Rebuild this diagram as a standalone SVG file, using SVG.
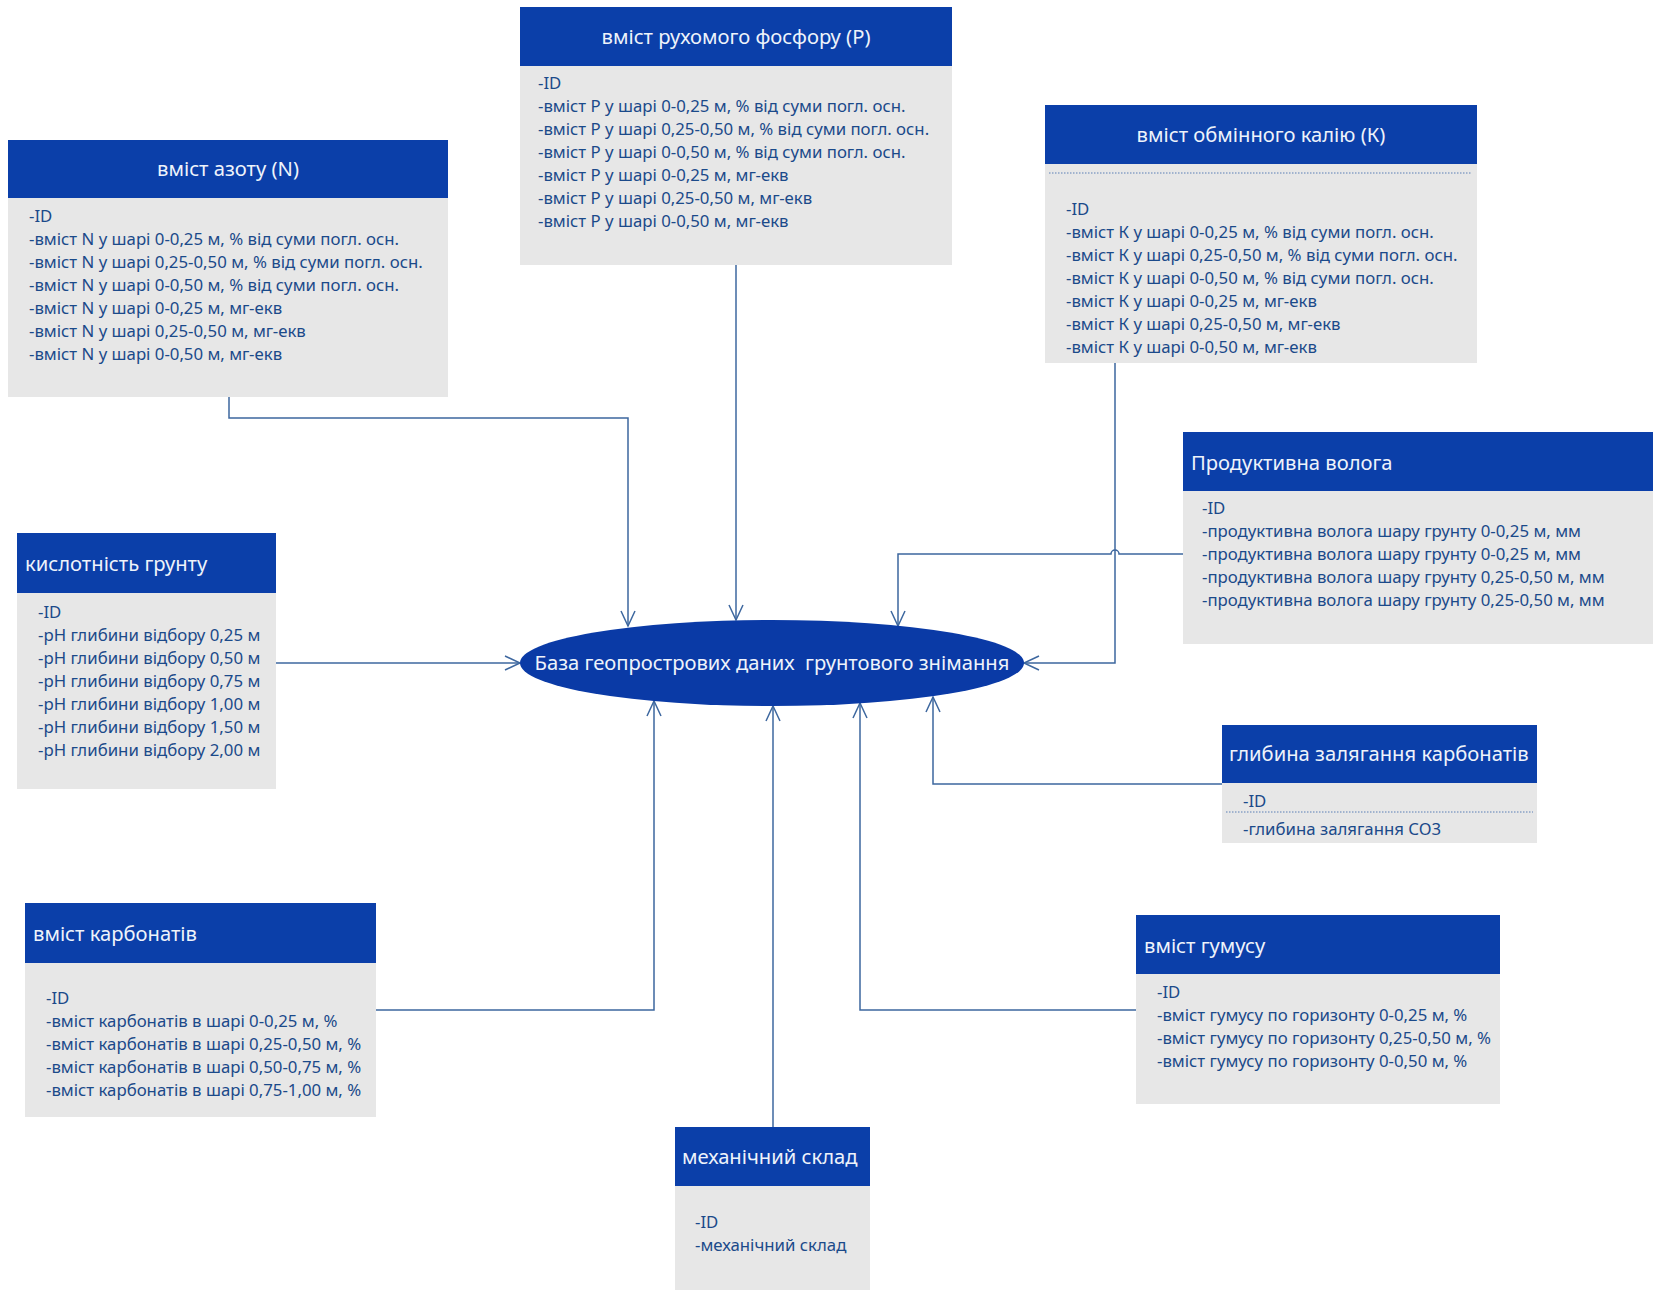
<svg xmlns="http://www.w3.org/2000/svg" width="1653" height="1290" viewBox="0 0 1653 1290">
<defs>
<style>
.hd{fill:#0b3fa9}
.bd{fill:#e7e7e7}
.tt{font-family:"Noto Sans","Open Sans",sans-serif;font-size:20.2px;fill:#eef3fb}
.t{font-family:"Noto Sans","Open Sans",sans-serif;font-size:16.8px;fill:#1b4a8a}
.c{fill:none;stroke:#3d679f;stroke-width:1.5}
.dot{stroke:#5a7fb5;stroke-width:1;stroke-dasharray:1.5 1.5}
</style>
<marker id="ar" viewBox="-16 -9 18 18" refX="0" refY="0" markerWidth="18" markerHeight="18" markerUnits="userSpaceOnUse" orient="auto">
<path d="M-15,-7 L0,0 L-15,7" fill="none" stroke="#3d679f" stroke-width="1.5"/>
</marker>
</defs>
<rect width="1653" height="1290" fill="#ffffff"/>

<g id="connectors">
<path class="c" d="M229,397 V418 H628 V626" marker-end="url(#ar)"/>
<path class="c" d="M736,265 V620" marker-end="url(#ar)"/>
<path class="c" d="M1183,554 H1119 a4,4 0 0 0 -8,0 H898 V626" marker-end="url(#ar)"/>
<path class="c" d="M1115,363 V663 H1024" marker-end="url(#ar)"/>
<path class="c" d="M276,663 H520" marker-end="url(#ar)"/>
<path class="c" d="M1222,784 H933 V697" marker-end="url(#ar)"/>
<path class="c" d="M376,1010 H654 V701" marker-end="url(#ar)"/>
<path class="c" d="M1136,1010 H860 V703" marker-end="url(#ar)"/>
<path class="c" d="M773,1127 V706" marker-end="url(#ar)"/>
</g>

<g id="center">
<ellipse cx="772" cy="663" rx="252" ry="43" fill="#0a3aa6"/>
<text class="tt" x="772" y="670" text-anchor="middle" font-size="20.9" style="white-space:pre">База геопрострових даних  грунтового знімання</text>
</g>

<g id="nitrogen">
<rect class="bd" x="8" y="198" width="440" height="199"/>
<rect class="hd" x="8" y="140" width="440" height="58"/>
<text class="tt" x="228" y="176" text-anchor="middle">вміст азоту (N)</text>
<text class="t" x="29" y="222">-ID</text>
<text class="t" x="29" y="245">-вміст N у шарі 0-0,25 м, % від суми погл. осн.</text>
<text class="t" x="29" y="268">-вміст N у шарі 0,25-0,50 м, % від суми погл. осн.</text>
<text class="t" x="29" y="291">-вміст N у шарі 0-0,50 м, % від суми погл. осн.</text>
<text class="t" x="29" y="314">-вміст N у шарі 0-0,25 м, мг-екв</text>
<text class="t" x="29" y="337">-вміст N у шарі 0,25-0,50 м, мг-екв</text>
<text class="t" x="29" y="360">-вміст N у шарі 0-0,50 м, мг-екв</text>
</g>

<g id="phosphorus">
<rect class="bd" x="520" y="66" width="432" height="199"/>
<rect class="hd" x="520" y="7" width="432" height="59"/>
<text class="tt" x="736" y="44" text-anchor="middle">вміст рухомого фосфору (Р)</text>
<text class="t" x="538" y="89">-ID</text>
<text class="t" x="538" y="112">-вміст Р у шарі 0-0,25 м, % від суми погл. осн.</text>
<text class="t" x="538" y="135">-вміст Р у шарі 0,25-0,50 м, % від суми погл. осн.</text>
<text class="t" x="538" y="158">-вміст Р у шарі 0-0,50 м, % від суми погл. осн.</text>
<text class="t" x="538" y="181">-вміст Р у шарі 0-0,25 м, мг-екв</text>
<text class="t" x="538" y="204">-вміст Р у шарі 0,25-0,50 м, мг-екв</text>
<text class="t" x="538" y="227">-вміст Р у шарі 0-0,50 м, мг-екв</text>
</g>

<g id="potassium">
<rect class="bd" x="1045" y="164" width="432" height="199"/>
<rect class="hd" x="1045" y="105" width="432" height="59"/>
<line class="dot" x1="1049" y1="173" x2="1472" y2="173"/>
<text class="tt" x="1261" y="142" text-anchor="middle">вміст обмінного калію (К)</text>
<text class="t" x="1066" y="215">-ID</text>
<text class="t" x="1066" y="238">-вміст К у шарі 0-0,25 м, % від суми погл. осн.</text>
<text class="t" x="1066" y="261">-вміст К у шарі 0,25-0,50 м, % від суми погл. осн.</text>
<text class="t" x="1066" y="284">-вміст К у шарі 0-0,50 м, % від суми погл. осн.</text>
<text class="t" x="1066" y="307">-вміст К у шарі 0-0,25 м, мг-екв</text>
<text class="t" x="1066" y="330">-вміст К у шарі 0,25-0,50 м, мг-екв</text>
<text class="t" x="1066" y="353">-вміст К у шарі 0-0,50 м, мг-екв</text>
</g>

<g id="moisture">
<rect class="bd" x="1183" y="491" width="470" height="153"/>
<rect class="hd" x="1183" y="432" width="470" height="59"/>
<text class="tt" x="1191" y="470">Продуктивна волога</text>
<text class="t" x="1202" y="514">-ID</text>
<text class="t" x="1202" y="537">-продуктивна волога шару грунту 0-0,25 м, мм</text>
<text class="t" x="1202" y="560">-продуктивна волога шару грунту 0-0,25 м, мм</text>
<text class="t" x="1202" y="583">-продуктивна волога шару грунту 0,25-0,50 м, мм</text>
<text class="t" x="1202" y="606">-продуктивна волога шару грунту 0,25-0,50 м, мм</text>
</g>

<g id="acidity">
<rect class="bd" x="17" y="593" width="259" height="196"/>
<rect class="hd" x="17" y="533" width="259" height="60"/>
<text class="tt" x="25" y="571">кислотність грунту</text>
<text class="t" x="38" y="618">-ID</text>
<text class="t" x="38" y="641">-pH глибини відбору 0,25 м</text>
<text class="t" x="38" y="664">-pH глибини відбору 0,50 м</text>
<text class="t" x="38" y="687">-pH глибини відбору 0,75 м</text>
<text class="t" x="38" y="710">-pH глибини відбору 1,00 м</text>
<text class="t" x="38" y="733">-pH глибини відбору 1,50 м</text>
<text class="t" x="38" y="756">-pH глибини відбору 2,00 м</text>
</g>

<g id="carbonate-depth">
<rect class="bd" x="1222" y="783" width="315" height="60"/>
<rect class="hd" x="1222" y="725" width="315" height="58"/>
<line class="dot" x1="1226" y1="812" x2="1533" y2="812"/>
<text class="tt" x="1229" y="761" font-size="19.8">глибина залягання карбонатів</text>
<text class="t" x="1243" y="807">-ID</text>
<text class="t" x="1243" y="835">-глибина залягання СО3</text>
</g>

<g id="carbonates">
<rect class="bd" x="25" y="963" width="351" height="154"/>
<rect class="hd" x="25" y="903" width="351" height="60"/>
<text class="tt" x="33" y="941">вміст карбонатів</text>
<text class="t" x="46" y="1004">-ID</text>
<text class="t" x="46" y="1027">-вміст карбонатів в шарі 0-0,25 м, %</text>
<text class="t" x="46" y="1050">-вміст карбонатів в шарі 0,25-0,50 м, %</text>
<text class="t" x="46" y="1073">-вміст карбонатів в шарі 0,50-0,75 м, %</text>
<text class="t" x="46" y="1096">-вміст карбонатів в шарі 0,75-1,00 м, %</text>
</g>

<g id="humus">
<rect class="bd" x="1136" y="974" width="364" height="130"/>
<rect class="hd" x="1136" y="915" width="364" height="59"/>
<text class="tt" x="1144" y="953">вміст гумусу</text>
<text class="t" x="1157" y="998">-ID</text>
<text class="t" x="1157" y="1021">-вміст гумусу по горизонту 0-0,25 м, %</text>
<text class="t" x="1157" y="1044">-вміст гумусу по горизонту 0,25-0,50 м, %</text>
<text class="t" x="1157" y="1067">-вміст гумусу по горизонту 0-0,50 м, %</text>
</g>

<g id="mechanical">
<rect class="bd" x="675" y="1186" width="195" height="104"/>
<rect class="hd" x="675" y="1127" width="195" height="59"/>
<text class="tt" x="682" y="1164">механічний склад</text>
<text class="t" x="695" y="1228">-ID</text>
<text class="t" x="695" y="1251">-механічний склад</text>
</g>
</svg>
